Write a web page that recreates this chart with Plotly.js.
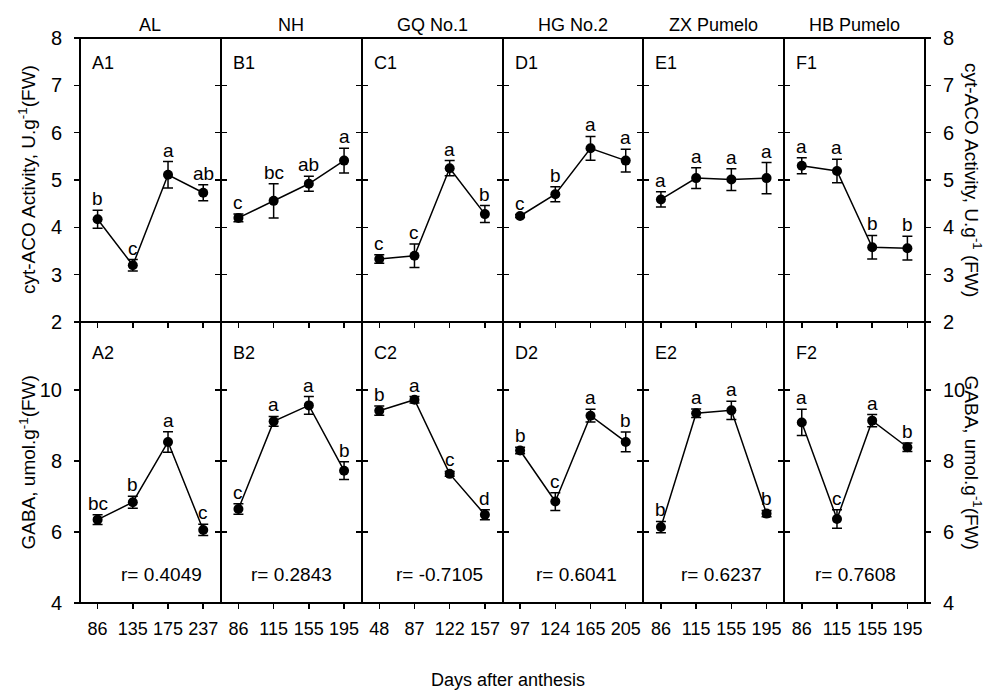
<!DOCTYPE html>
<html><head><meta charset="utf-8">
<script src="https://cdn.plot.ly/plotly-3.0.1.min.js"></script>
<style>body{margin:0;background:#fff}</style>
</head><body><div id="chart" style="width:994px;height:690px"></div>
<script>
// ---- data ----
const cultivars = ['AL', 'NH', 'GQ No.1', 'HG No.2', 'ZX Pumelo', 'HB Pumelo'];
const days_AL = ['86', '135', '175', '237'];
const days_NH = ['86', '115', '155', '195'];
const days_GQ = ['48', '87', '122', '157'];
const days_HG = ['97', '124', '165', '205'];
const days_ZX = ['86', '115', '155', '195'];
const days_HB = ['86', '115', '155', '195'];

const aco_AL = [4.17, 3.20, 5.11, 4.73]; const acoErr_AL = [0.19, 0.12, 0.28, 0.17]; const acoSig_AL = ['b', 'c', 'a', 'ab'];
const aco_NH = [4.20, 4.56, 4.92, 5.41]; const acoErr_NH = [0.08, 0.36, 0.16, 0.26]; const acoSig_NH = ['c', 'bc', 'ab', 'a'];
const aco_GQ = [3.33, 3.40, 5.25, 4.28]; const acoErr_GQ = [0.09, 0.25, 0.16, 0.18]; const acoSig_GQ = ['c', 'c', 'a', 'b'];
const aco_HG = [4.24, 4.70, 5.67, 5.41]; const acoErr_HG = [0.03, 0.16, 0.25, 0.24]; const acoSig_HG = ['c', 'b', 'a', 'a'];
const aco_ZX = [4.59, 5.04, 5.01, 5.04]; const acoErr_ZX = [0.16, 0.22, 0.23, 0.33]; const acoSig_ZX = ['a', 'a', 'a', 'a'];
const aco_HB = [5.30, 5.19, 3.58, 3.56]; const acoErr_HB = [0.17, 0.25, 0.25, 0.25]; const acoSig_HB = ['a', 'a', 'b', 'b'];

const gaba_AL = [6.35, 6.84, 8.54, 6.06]; const gabaErr_AL = [0.14, 0.17, 0.29, 0.16]; const gabaSig_AL = ['bc', 'b', 'a', 'c'];
const gaba_NH = [6.65, 9.12, 9.57, 7.73]; const gabaErr_NH = [0.15, 0.14, 0.25, 0.25]; const gabaSig_NH = ['c', 'a', 'a', 'b'];
const gaba_GQ = [9.42, 9.73, 7.64, 6.49]; const gabaErr_GQ = [0.13, 0.09, 0.07, 0.14]; const gabaSig_GQ = ['b', 'a', 'c', 'd'];
const gaba_HG = [8.30, 6.86, 9.28, 8.54]; const gabaErr_HG = [0.09, 0.25, 0.18, 0.28]; const gabaSig_HG = ['b', 'c', 'a', 'b'];
const gaba_ZX = [6.14, 9.35, 9.43, 6.52]; const gabaErr_ZX = [0.16, 0.12, 0.26, 0.09]; const gabaSig_ZX = ['b', 'a', 'a', 'b'];
const gaba_HB = [9.09, 6.37, 9.14, 8.39]; const gabaErr_HB = [0.37, 0.26, 0.17, 0.12]; const gabaSig_HB = ['a', 'c', 'a', 'b'];

const rValues = ['0.4049', '0.2843', '-0.7105', '0.6041', '0.6237', '0.7608'];
const topLabels = ['A1', 'B1', 'C1', 'D1', 'E1', 'F1'];
const bottomLabels = ['A2', 'B2', 'C2', 'D2', 'E2', 'F2'];
const acoTicks = [2, 3, 4, 5, 6, 7, 8];
const gabaTicks = [4, 6, 8, 10];

// ---- grouping ----
const days = [days_AL, days_NH, days_GQ, days_HG, days_ZX, days_HB];
const aco = [aco_AL, aco_NH, aco_GQ, aco_HG, aco_ZX, aco_HB];
const acoErr = [acoErr_AL, acoErr_NH, acoErr_GQ, acoErr_HG, acoErr_ZX, acoErr_HB];
const acoSig = [acoSig_AL, acoSig_NH, acoSig_GQ, acoSig_HG, acoSig_ZX, acoSig_HB];
const gaba = [gaba_AL, gaba_NH, gaba_GQ, gaba_HG, gaba_ZX, gaba_HB];
const gabaErr = [gabaErr_AL, gabaErr_NH, gabaErr_GQ, gabaErr_HG, gabaErr_ZX, gabaErr_HB];
const gabaSig = [gabaSig_AL, gabaSig_NH, gabaSig_GQ, gabaSig_HG, gabaSig_ZX, gabaSig_HB];

// ---- style / layout ----
const FONT = 'Arial, "Liberation Sans", sans-serif';
const rPos = [1.82, 1.51, 1.71, 1.60, 1.71, 1.54];
const splitY = 0.4973;
const traces = [];
const annotations = [];
const layout = {
  width: 994, height: 690,
  margin: {l: 80, r: 69, t: 38, b: 87},
  paper_bgcolor: '#fff', plot_bgcolor: '#fff',
  showlegend: false,
  font: {family: FONT, size: 18, color: '#000'},
  annotations: annotations,
  shapes: [{type: 'rect', xref: 'paper', yref: 'paper', x0: 0, x1: 1, y0: 0, y1: 1,
    line: {color: '#000', width: 2}, fillcolor: 'rgba(0,0,0,0)', layer: 'above'}]
};

function addSeries(xa, ya, x, y, err, sig) {
  traces.push({
    type: 'scatter', mode: 'lines+markers', x: x, y: y,
    xaxis: xa, yaxis: ya,
    line: {color: '#000', width: 1.5},
    marker: {color: '#000', size: 10},
    error_y: {type: 'data', array: err, visible: true, color: '#000', thickness: 1.5, width: 5},
    hoverinfo: 'skip', cliponaxis: false
  });
  for (let j = 0; j < x.length; j++) {
    annotations.push({
      xref: xa, yref: ya, x: j, y: y[j] + err[j], text: sig[j],
      showarrow: false, yanchor: 'bottom', xanchor: 'center', yshift: -1,
      font: {family: FONT, size: 19, color: '#000'}
    });
  }
}

for (let i = 0; i < 6; i++) {
  const dom = [i / 6, (i + 1) / 6];
  const ti = i + 1, bi = i + 7;
  const xt = 'x' + ti, yt = 'y' + ti, xb = 'x' + bi, yb = 'y' + bi;
  const axX = {
    type: 'category', range: [-0.5, 3.5], domain: dom,
    showline: true, linecolor: '#000', linewidth: 1, mirror: true,
    showgrid: false, zeroline: false, ticklen: 5, tickwidth: 1.5, tickcolor: '#000'
  };
  layout['xaxis' + ti] = Object.assign({}, axX, {anchor: yt, ticks: 'outside', showticklabels: false});
  layout['xaxis' + bi] = Object.assign({}, axX, {anchor: yb, ticks: 'outside', showticklabels: true,
    tickfont: {family: FONT, size: 18, color: '#000'}, ticklabelstandoff: 4});
  const axY = {
    showline: true, linecolor: '#000', linewidth: 1, mirror: 'ticks',
    showgrid: false, zeroline: false, ticks: 'outside', ticklen: 5, tickwidth: 1.5, tickcolor: '#000',
    showticklabels: (i === 0 || i === 5), side: (i === 5 ? 'right' : 'left'),
    tickfont: {family: FONT, size: 20, color: '#000'}, ticklabelstandoff: 8
  };
  layout['yaxis' + ti] = Object.assign({}, axY, {anchor: xt, domain: [splitY, 1], range: [2, 8], tickvals: acoTicks});
  layout['yaxis' + bi] = Object.assign({}, axY, {anchor: xb, domain: [0, splitY], range: [4, 11.92], tickvals: gabaTicks});

  addSeries(xt, yt, days[i], aco[i], acoErr[i], acoSig[i]);
  addSeries(xb, yb, days[i], gaba[i], gabaErr[i], gabaSig[i]);

  annotations.push({xref: xt + ' domain', yref: 'paper', x: 0.5, y: 1, yshift: 13, yanchor: 'middle',
    text: cultivars[i], showarrow: false, font: {family: FONT, size: 18, color: '#000'}});
  annotations.push({xref: xt + ' domain', yref: yt + ' domain', x: 0, y: 1, xshift: 10, yshift: -25,
    xanchor: 'left', yanchor: 'middle', text: topLabels[i], showarrow: false, font: {family: FONT, size: 18, color: '#000'}});
  annotations.push({xref: xb + ' domain', yref: yb + ' domain', x: 0, y: 1, xshift: 10, yshift: -31,
    xanchor: 'left', yanchor: 'middle', text: bottomLabels[i], showarrow: false, font: {family: FONT, size: 18, color: '#000'}});
  annotations.push({xref: xb, yref: yb, x: rPos[i], y: 4.8, xanchor: 'center', yanchor: 'middle',
    text: 'r= ' + rValues[i], showarrow: false, font: {family: FONT, size: 19, color: '#000'}});
}

const yTitleFont = {family: FONT, size: 19, color: '#000'};
annotations.push({xref: 'paper', yref: 'y1 domain', x: -0.0627, y: 0.5, textangle: -90, showarrow: false,
  xanchor: 'center', yanchor: 'middle', text: 'cyt-ACO Activity, U.g<sup>-1</sup>(FW)', font: yTitleFont});
annotations.push({xref: 'paper', yref: 'y7 domain', x: -0.0627, y: 0.5, textangle: -90, showarrow: false,
  xanchor: 'center', yanchor: 'middle', text: 'GABA, umol.g<sup>-1</sup>(FW)', font: yTitleFont});
annotations.push({xref: 'paper', yref: 'y6 domain', x: 1.0568, y: 0.5, textangle: 90, showarrow: false,
  xanchor: 'center', yanchor: 'middle', text: 'cyt-ACO Activity, U.g<sup>-1</sup> (FW)', font: yTitleFont});
annotations.push({xref: 'paper', yref: 'y12 domain', x: 1.0568, y: 0.5, textangle: 90, showarrow: false,
  xanchor: 'center', yanchor: 'middle', text: 'GABA, umol.g<sup>-1</sup>(FW)', font: yTitleFont});
annotations.push({xref: 'paper', yref: 'paper', x: 0.506, y: -0.136, showarrow: false,
  xanchor: 'center', yanchor: 'middle', text: 'Days after anthesis', font: {family: FONT, size: 18, color: '#000'}});

Plotly.newPlot('chart', traces, layout, {displayModeBar: false, staticPlot: true});
</script>
</body></html>
